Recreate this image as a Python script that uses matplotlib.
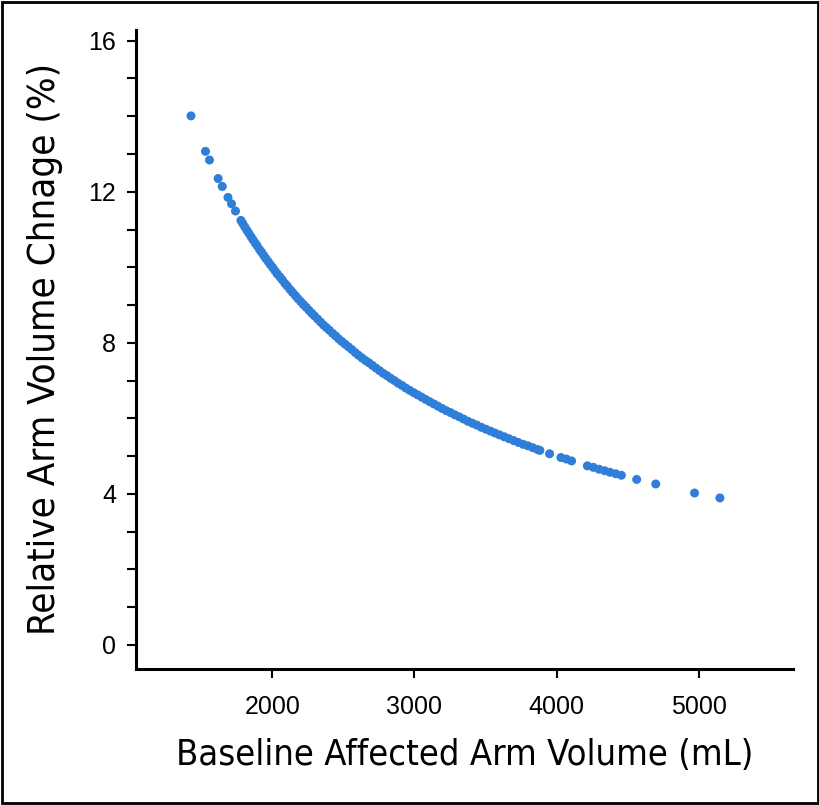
import matplotlib
matplotlib.use('Agg')
import matplotlib.pyplot as plt
from matplotlib.ticker import MultipleLocator
from matplotlib.patches import Rectangle

# Baseline affected arm volume (mL)
volume = [
    1428, 1530, 1558, 1619, 1648, 1688, 1713, 1741,
    1779, 1792, 1806, 1821, 1835, 1850, 1864, 1880, 1893, 1910,
    1924, 1940, 1955, 1971, 1986, 2003, 2020, 2036, 2054, 2071,
    2089, 2106, 2125, 2143, 2162, 2180, 2200, 2219, 2238, 2258,
    2278, 2297, 2318, 2339, 2360, 2381, 2402, 2424, 2446, 2468,
    2490, 2513, 2536, 2559, 2583, 2606, 2630, 2655, 2679, 2704,
    2729, 2755, 2780, 2806, 2832, 2858, 2885, 2912, 2939, 2966,
    2994, 3022, 3050, 3078, 3107, 3136, 3165, 3194, 3224, 3254,
    3284, 3314, 3345, 3376, 3407, 3438, 3470, 3502, 3534, 3566,
    3598, 3631, 3664, 3697, 3730, 3764, 3798, 3832, 3866, 3882,
    3950, 4030, 4068, 4105, 4216, 4258, 4298, 4338, 4375, 4415,
    4455, 4563, 4697, 4970, 5148,
]

# Relative arm volume change (%)
change = [
    14.01, 13.07, 12.84, 12.35, 12.14, 11.85, 11.68, 11.49,
    11.24, 11.16, 11.07, 10.98, 10.90, 10.81, 10.73, 10.64, 10.57, 10.47,
    10.40, 10.31, 10.23, 10.15, 10.07, 9.99, 9.90, 9.82, 9.74, 9.66,
    9.57, 9.50, 9.41, 9.33, 9.25, 9.17, 9.09, 9.01, 8.94, 8.86,
    8.78, 8.71, 8.63, 8.55, 8.47, 8.40, 8.33, 8.25, 8.18, 8.10,
    8.03, 7.96, 7.89, 7.82, 7.74, 7.67, 7.60, 7.53, 7.47, 7.40,
    7.33, 7.26, 7.19, 7.13, 7.06, 7.00, 6.93, 6.87, 6.80, 6.74,
    6.68, 6.62, 6.56, 6.50, 6.44, 6.38, 6.32, 6.26, 6.20, 6.15,
    6.09, 6.04, 5.98, 5.92, 5.87, 5.82, 5.76, 5.71, 5.66, 5.61,
    5.56, 5.51, 5.46, 5.41, 5.36, 5.31, 5.27, 5.22, 5.17, 5.15,
    5.06, 4.96, 4.92, 4.87, 4.74, 4.70, 4.65, 4.61, 4.57, 4.53,
    4.49, 4.38, 4.26, 4.02, 3.89,
]

x_ticks = [2000, 3000, 4000, 5000]
y_ticks = [0, 4, 8, 12, 16]

plt.rcParams['font.family'] = ['Liberation Sans', 'DejaVu Sans']
# axis titles in a condensed face, like the original
label_kw = dict(family='DejaVu Sans', stretch='condensed')

fig = plt.figure(figsize=(8.2, 8.05), dpi=100)
ax = fig.add_axes([0.166, 0.169, 0.801, 0.794])

ax.scatter(volume, change, s=42, color='#2f7fd8', edgecolors='none', zorder=3)

ax.set_xlim(1042, 5662)
ax.set_ylim(-0.64, 16.29)
ax.set_xticks(x_ticks)
ax.set_yticks(y_ticks)
ax.yaxis.set_minor_locator(MultipleLocator(1))

for side in ['top', 'right']:
    ax.spines[side].set_visible(False)
for side in ['left', 'bottom']:
    ax.spines[side].set_linewidth(2.2)

ax.tick_params(which='both', direction='out', width=1.5, length=6.5, color='black')
ax.tick_params(axis='both', labelsize=18)
ax.tick_params(axis='y', pad=8)
ax.tick_params(axis='x', pad=12)

ax.set_xlabel('Baseline Affected Arm Volume (mL)', fontsize=26, labelpad=14, **label_kw)
ax.set_ylabel('Relative Arm Volume Chnage (%)', fontsize=27.5, labelpad=18, **label_kw)

# black frame around the whole figure
fig.patches.append(Rectangle((0.002, 0.002), 0.996, 0.996, transform=fig.transFigure,
                             fill=False, edgecolor='black', linewidth=2))

fig.savefig('out.png', dpi=100)
